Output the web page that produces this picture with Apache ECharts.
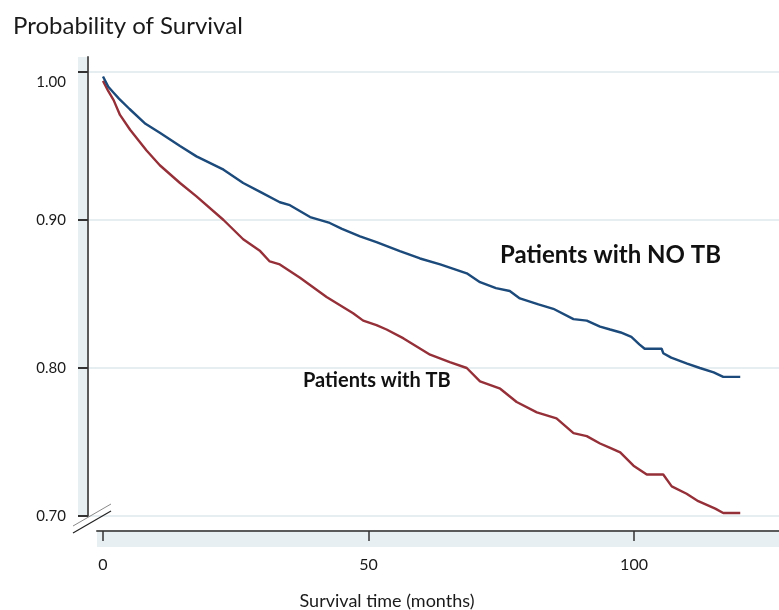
<!DOCTYPE html>
<html>
<head>
<meta charset="utf-8">
<script src="https://cdn.jsdelivr.net/npm/echarts@6/dist/echarts.min.js"></script>
<style>
html,body{margin:0;padding:0;background:#fff;}
#chart{width:779px;height:610px;}
</style>
</head>
<body>
<div id="chart"></div>
<script>
// ---- data ----
const monthsNoTB = [0, 1, 2, 3, 5, 8, 10.7, 14.5, 17.6, 22.7, 26.4, 29.6, 33.3, 35.2, 39, 42.7, 45, 48.4, 51.5, 55.9, 59.7, 63.5, 66, 68.5, 71, 74, 76.6, 78.5, 82, 84.8, 88.6, 91.1, 93.6, 95.5, 97.5, 99.5, 101, 102, 105.2, 105.5, 107, 110, 112.4, 115, 116.8, 120];
const survNoTB = [0.997, 0.990, 0.986, 0.982, 0.975, 0.965, 0.959, 0.950, 0.943, 0.934, 0.925, 0.919, 0.912, 0.910, 0.902, 0.898, 0.894, 0.889, 0.885, 0.879, 0.874, 0.870, 0.867, 0.864, 0.858, 0.854, 0.852, 0.847, 0.843, 0.840, 0.833, 0.832, 0.828, 0.826, 0.824, 0.821, 0.816, 0.813, 0.813, 0.810, 0.807, 0.803, 0.800, 0.797, 0.794, 0.794];

const monthsTB = [0, 1, 2, 3.2, 5.1, 8.2, 10.7, 14.5, 17.6, 22.7, 26.4, 29.6, 31.4, 33.3, 37.1, 42.1, 47.1, 49, 51.5, 53.4, 56.6, 61.6, 65.3, 68.5, 71, 74.8, 77.9, 81.7, 85.4, 88.6, 91.1, 93.6, 95.5, 97.4, 99.9, 102.4, 105.5, 107.1, 109.9, 112.1, 115.3, 116.8, 120];
const survTB = [0.994, 0.987, 0.981, 0.971, 0.961, 0.947, 0.937, 0.925, 0.916, 0.900, 0.887, 0.879, 0.872, 0.870, 0.861, 0.848, 0.837, 0.832, 0.829, 0.826, 0.820, 0.809, 0.804, 0.800, 0.791, 0.786, 0.777, 0.770, 0.766, 0.756, 0.754, 0.749, 0.746, 0.743, 0.734, 0.728, 0.728, 0.720, 0.715, 0.710, 0.705, 0.702, 0.702];

const xTickValues = [0, 50, 100];
const yMin = 0.7, yMax = 1.0, yStep = 0.1;

const titleText = 'Probability of Survival';
const xAxisTitle = 'Survival time (months)';
const labelNoTB = 'Patients with NO TB';
const labelTB = 'Patients with TB';

// ---- chart ----
const FONT = 'Lato, "Open Sans", "Noto Sans", sans-serif';
const zip = (xs, ys) => xs.map((x, i) => [x, ys[i]]);
const BAND = '#e8eff2';

const chart = echarts.init(document.getElementById('chart'), null, {renderer: 'canvas'});
chart.setOption({
  animation: false,
  backgroundColor: '#ffffff',
  title: [
    {text: titleText, left: 8, top: 9, textStyle: {fontFamily: FONT, fontSize: 24, fontWeight: 'normal', color: '#1a1a1a'}},
    {text: xAxisTitle, left: 382, top: 587, textAlign: 'center', textStyle: {fontFamily: FONT, fontSize: 18, fontWeight: 'normal', color: '#1a1a1a'}}
  ],
  grid: [
    {left: 88, right: 0, top: 72, bottom: 94, containLabel: false},
    {left: 97, right: 0, top: 531, height: 16, show: false},
    {left: 78, width: 10, top: 57, bottom: 94, show: false}
  ],
  xAxis: [
    {type: 'value', gridIndex: 0, min: -2.825, max: 127.3, show: false, axisLine: {onZero: false}},
    {type: 'value', gridIndex: 1, min: -1.13, max: 127.3, position: 'top', z: 3,
      axisLine: {show: true, onZero: false, lineStyle: {color: '#5a5a5a', width: 2}},
      axisTick: {show: true, inside: true, length: 10, customValues: xTickValues, lineStyle: {color: '#333', width: 1.5}},
      axisLabel: {show: true, inside: true, margin: 26, customValues: xTickValues, fontFamily: FONT, fontSize: 16, color: '#1a1a1a', verticalAlign: 'top'},
      splitLine: {show: false}},
    {type: 'value', gridIndex: 2, show: false, axisLine: {onZero: false}}
  ],
  yAxis: [
    {type: 'value', gridIndex: 0, min: yMin, max: yMax, interval: yStep, z: 3,
      axisLine: {show: false, onZero: false},
      axisTick: {show: true, inside: false, length: 10, lineStyle: {color: '#333', width: 2}},
      axisLabel: {margin: 22, fontFamily: FONT, fontSize: 15, color: '#1a1a1a',
        formatter: v => Math.abs(v - 1) < 1e-6 ? '{d|1.00}' : v.toFixed(2),
        rich: {d: {fontFamily: FONT, fontSize: 15, color: '#1a1a1a', padding: [20, 0, 0, 0]}}},
      splitLine: {show: true, lineStyle: {color: '#e6eef1', width: 2}}},
    {type: 'value', gridIndex: 1, show: false, axisLine: {onZero: false}},
    {type: 'value', gridIndex: 2, min: 0, max: 1, position: 'right', z: 3,
      axisLine: {show: true, onZero: false, lineStyle: {color: '#5a5a5a', width: 2}},
      axisTick: {show: false}, axisLabel: {show: false}, splitLine: {show: false}}
  ],
  series: [
    {name: labelNoTB, type: 'line', xAxisIndex: 0, yAxisIndex: 0, data: zip(monthsNoTB, survNoTB),
      showSymbol: false, symbol: 'none', lineStyle: {color: '#1c4a7a', width: 2.4}, z: 5},
    {name: labelTB, type: 'line', xAxisIndex: 0, yAxisIndex: 0, data: zip(monthsTB, survTB),
      showSymbol: false, symbol: 'none', lineStyle: {color: '#953039', width: 2.4}, z: 4}
  ],
  graphic: [
    {type: 'rect', shape: {x: 78, y: 57, width: 10, height: 459}, style: {fill: BAND}, z: -10, silent: true},
    {type: 'rect', shape: {x: 97, y: 531, width: 682, height: 16}, style: {fill: BAND}, z: -10, silent: true},
    {type: 'line', shape: {x1: 73, y1: 526, x2: 111, y2: 504}, style: {stroke: '#8a8a8a', lineWidth: 1}, z: 10},
    {type: 'line', shape: {x1: 73, y1: 533, x2: 111, y2: 511}, style: {stroke: '#222', lineWidth: 1.2}, z: 10},
    {type: 'text', left: 500, top: 243, style: {text: labelNoTB, font: 'bold 24px ' + FONT, fill: '#111'}, z: 10},
    {type: 'text', left: 303, top: 371, style: {text: labelTB, font: 'bold 20px ' + FONT, fill: '#111'}, z: 10}
  ]
});
</script>
</body>
</html>
